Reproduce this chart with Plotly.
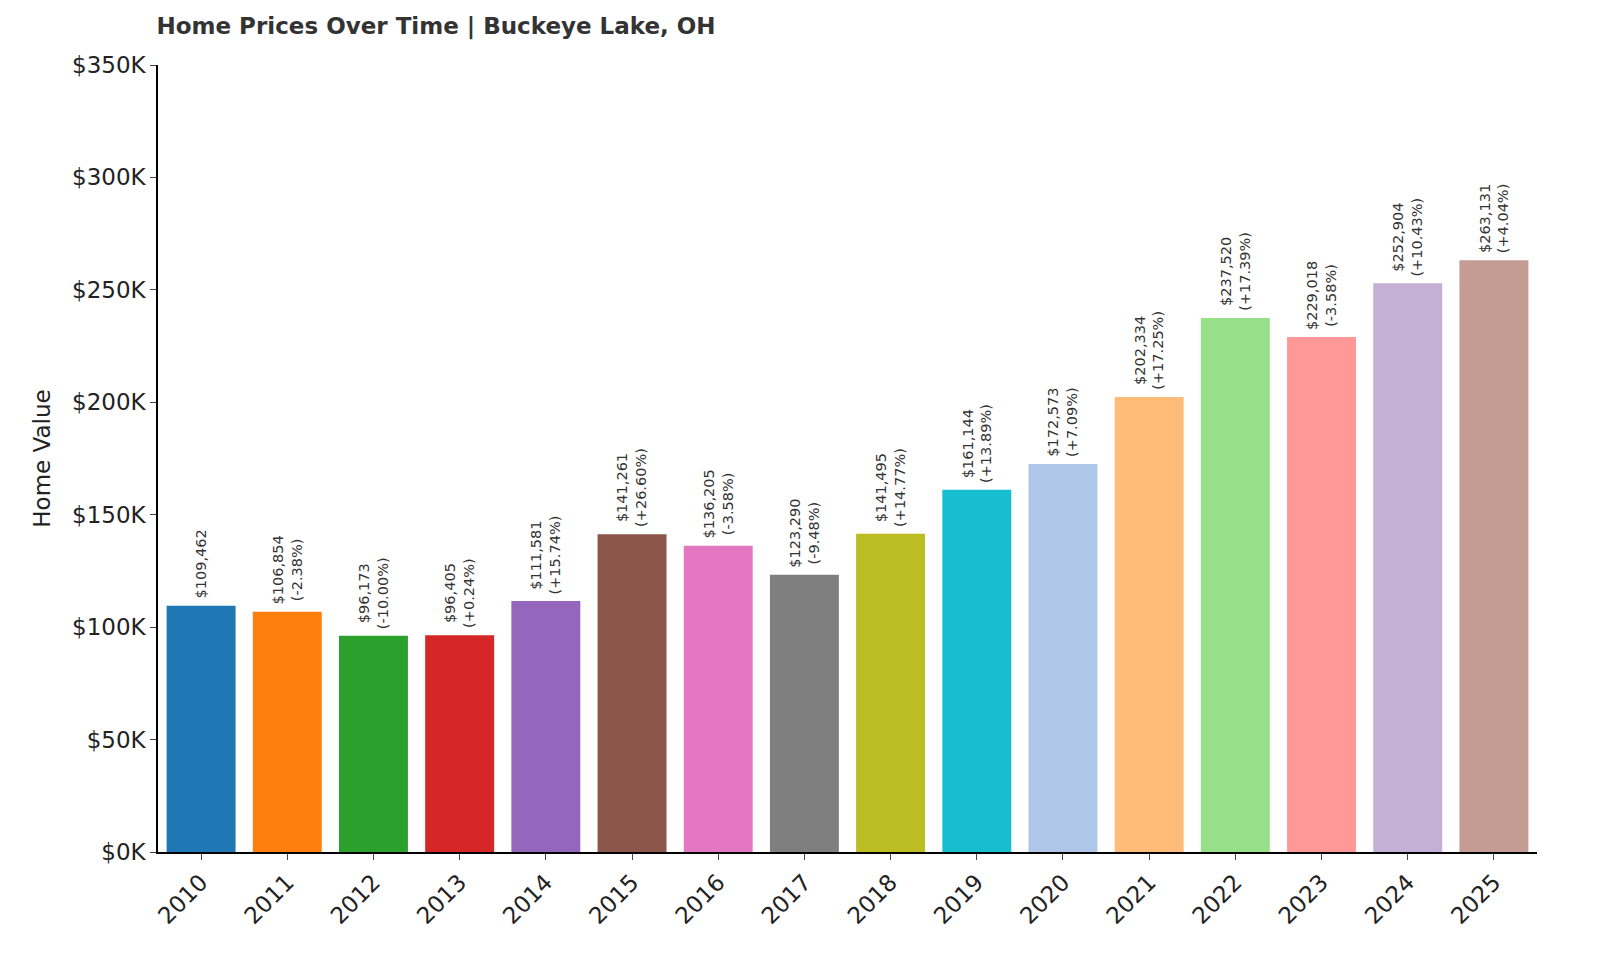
import plotly.graph_objects as go

years = [str(y) for y in range(2010, 2026)]
values = [109462, 106854, 96173, 96405, 111581, 141261, 136205, 123290,
          141495, 161144, 172573, 202334, 237520, 229018, 252904, 263131]
changes = [None, -2.38, -10.00, 0.24, 15.74, 26.60, -3.58, -9.48,
           14.77, 13.89, 7.09, 17.25, 17.39, -3.58, 10.43, 4.04]
colors = ["#1f77b4", "#ff7f0e", "#2ca02c", "#d62728", "#9467bd", "#8c564b",
          "#e377c2", "#7f7f7f", "#bcbd22", "#17becf", "#aec7e8", "#ffbb78",
          "#98df8a", "#ff9896", "#c5b0d5", "#c49c94"]

fig = go.Figure(go.Bar(x=list(range(len(years))), y=values, width=0.8,
                       marker=dict(color=colors, line_width=0)))

for i, (v, c) in enumerate(zip(values, changes)):
    txt = f"${v:,}" if c is None else f"${v:,}<br>({c:+.2f}%)"
    fig.add_annotation(x=i, y=v, text=txt, textangle=-90, showarrow=False,
                       xanchor="center", yanchor="bottom", yshift=5,
                       font=dict(size=14.5, color="#333"))

fig.update_layout(
    autosize=True,
    margin=dict(l=150, r=55, t=57, b=116),
    plot_bgcolor="white", paper_bgcolor="white",
    font=dict(family="DejaVu Sans", color="#222"),
    title=dict(text="<b>Home Prices Over Time | Buckeye Lake, OH</b>",
               x=150 / 1600, xanchor="left", y=0.99, yanchor="top",
               font=dict(size=23, color="#333")),
    xaxis=dict(tickmode="array", tickvals=list(range(len(years))), ticktext=years,
               range=[-0.5, 15.5], tickangle=-45, tickfont=dict(size=23),
               showline=True, linecolor="black", linewidth=1.5,
               ticks="outside", ticklen=6, showgrid=False),
    yaxis=dict(range=[0, 350000], tickvals=list(range(0, 350001, 50000)),
               ticktext=[f"${v // 1000}K" for v in range(0, 350001, 50000)],
               tickfont=dict(size=23), title=dict(text="Home Value", font=dict(size=23)),
               showline=True, linecolor="black", linewidth=1.5,
               ticks="outside", ticklen=6, showgrid=False, zeroline=False),
    showlegend=False,
)

fig.write_html("out.html", default_width="100%", default_height="100vh")
